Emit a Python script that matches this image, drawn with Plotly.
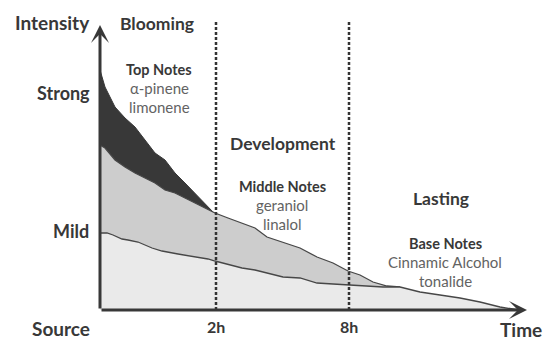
import plotly.graph_objects as go

# ---- data (x: time units along the axis, y: intensity units) ----
top_x = [0, 5, 15, 25, 35, 45, 55, 65, 75, 85, 95, 105, 113]
top_y = [240, 223, 203, 192, 183, 170, 157, 150, 137, 127, 117, 107, 98]

mid_x = [0, 5, 15, 25, 35, 45, 55, 65, 75, 85, 95, 105, 113, 115, 128, 142, 155, 167,
         183, 200, 217, 233, 248, 260, 273, 287, 300]
mid_y = [165, 162, 150, 143, 137, 132, 127, 120, 117, 112, 107, 102, 98, 97, 92, 87, 82, 73,
         68, 62, 53, 47, 39, 35, 28, 24, 23]

base_x = [0, 7, 13, 22, 28, 38, 52, 62, 78, 95, 108, 115, 128, 142, 155, 167, 183, 200,
          217, 233, 250, 267, 283, 300, 320, 340, 360, 380, 400, 413, 420]
base_y = [77, 77, 75, 71, 70, 68, 62, 59, 56, 53, 51, 49, 46, 42, 40, 37, 33, 32,
          27, 26, 25, 24, 23, 23, 18, 15, 12, 8, 3, 1, 0]

time_marks = [116, 249]
time_labels = ["2h", "8h"]
level_y = [217, 79]
level_labels = ["Strong", "Mild"]

phases = ["Blooming", "Development", "Lasting"]
phase_pos = [(57, 286), (183, 167), (341, 111)]

notes_titles = ["Top Notes", "Middle Notes", "Base Notes"]
notes_items = [["α-pinene", "limonene"], ["geraniol", "linalol"], ["Cinnamic Alcohol", "tonalide"]]
notes_pos = [(59, 241), (182, 124), (345, 67)]

XR = [0, 430]
YR = [0, 288]
FONT = "Lato"
DARK = "#383838"

fig = go.Figure()
fig.add_trace(go.Scatter(x=top_x, y=top_y, fill="tozeroy", mode="lines",
                         line=dict(color="#383838", width=1), fillcolor="#383838"))
fig.add_trace(go.Scatter(x=mid_x, y=mid_y, fill="tozeroy", mode="lines",
                         line=dict(color="#474747", width=1.3), fillcolor="#cdcdcd"))
fig.add_trace(go.Scatter(x=base_x, y=base_y, fill="tozeroy", mode="lines",
                         line=dict(color="#474747", width=1.3), fillcolor="#eaeaea"))

shapes = []
for xm in time_marks:
    shapes.append(dict(type="line", x0=xm, x1=xm, y0=0, y1=288, xref="x", yref="y",
                       line=dict(color="#333333", width=2.5, dash="3px,2px")))

ann = []
# axis arrows
ann.append(dict(x=427, y=0, ax=0, ay=0, xref="x", yref="y", axref="x", ayref="y",
                showarrow=True, arrowhead=3, arrowsize=1, arrowwidth=3, arrowcolor=DARK, text=""))
ann.append(dict(x=0, y=285, ax=0, ay=0, xref="x", yref="y", axref="x", ayref="y",
                showarrow=True, arrowhead=3, arrowsize=1, arrowwidth=3, arrowcolor=DARK, text=""))

def lab(x, y, t, size, bold=True, color=DARK):
    ann.append(dict(x=x / XR[1], y=y / YR[1], xref="paper", yref="paper",
                    text=f"<b>{t}</b>" if bold else t,
                    showarrow=False, xanchor="center", yanchor="middle",
                    font=dict(family=FONT, size=size, color=color)))

lab(-48, 287, "Intensity", 19)
lab(-39, -18, "Source", 19)
lab(421, -19, "Time", 19)
for yv, t in zip(level_y, level_labels):
    lab(-37 if t == "Strong" else -29, yv, t, 18)
for xm, t in zip(time_marks, time_labels):
    lab(xm, -16, t, 16)
for (px, py), t in zip(phase_pos, phases):
    lab(px, py, t, 17.5)
for (px, py), t, items in zip(notes_pos, notes_titles, notes_items):
    lab(px, py, t, 14.5)
    for i, it in enumerate(items):
        lab(px, py - 19 * (i + 1), it, 15, bold=False, color="#636363")

fig.update_layout(
    width=550, height=345, showlegend=False,
    margin=dict(l=100, r=20, t=22, b=35),
    paper_bgcolor="white", plot_bgcolor="white",
    xaxis=dict(range=XR, visible=False, fixedrange=True),
    yaxis=dict(range=YR, visible=False, fixedrange=True),
    shapes=shapes, annotations=ann,
)
fig.write_html("out.html", config={"displayModeBar": False},
               post_script="document.body.style.margin='0';")
